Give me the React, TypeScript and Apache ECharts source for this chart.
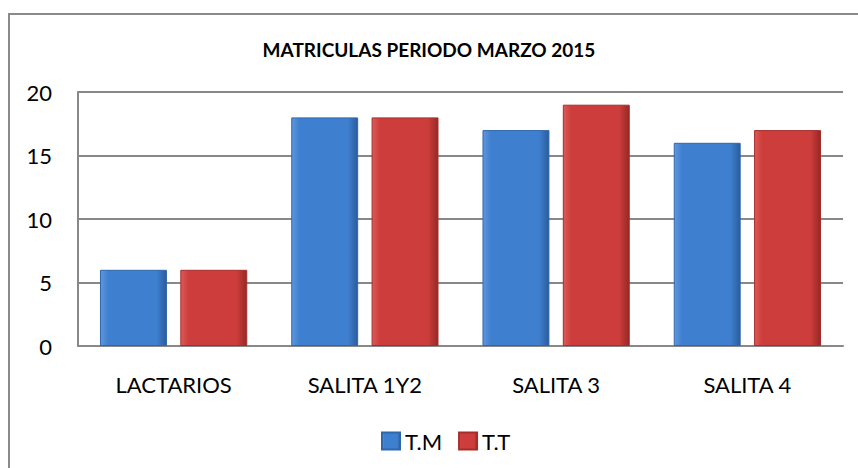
import React, { useEffect, useRef } from "react";
import * as echarts from "echarts";

const title = "MATRICULAS PERIODO MARZO 2015";
const categories = ["LACTARIOS", "SALITA 1Y2", "SALITA 3", "SALITA 4"];
const seriesNames = ["T.M", "T.T"];
const tmValues = [6, 18, 17, 16];
const ttValues = [6, 18, 19, 17];
const yTicks = { min: 0, max: 20, interval: 5 };

const FONT = "Lato, 'Open Sans', sans-serif";

function grad(light: string, mid: string, dark: string) {
  return new echarts.graphic.LinearGradient(0, 0, 1, 0, [
    { offset: 0, color: light },
    { offset: 0.12, color: mid },
    { offset: 0.85, color: mid },
    { offset: 1, color: dark },
  ]);
}

export default function App() {
  const ref = useRef<HTMLDivElement>(null);
  useEffect(() => {
    if (!ref.current) return;
    const chart = echarts.init(ref.current, undefined, { renderer: "svg" });
    const blue = grad("#5f97de", "#3f7fcf", "#2b5c9c");
    const red = grad("#dc5a58", "#cc3d3b", "#952826");
    chart.setOption({
      animation: false,
      backgroundColor: "#ffffff",
      textStyle: { fontFamily: FONT },
      title: {
        text: title,
        left: "center",
        top: 35,
        textStyle: { fontFamily: FONT, fontWeight: "bold", fontSize: 19, color: "#000" },
      },
      graphic: [
        {
          type: "rect",
          shape: { x: 9, y: 14, width: 900, height: 500 },
          style: { fill: "none", stroke: "#8a8a8a", lineWidth: 2 },
          silent: true,
          z: -1,
        },
      ],
      legend: {
        data: seriesNames,
        top: 425,
        left: 376,
        icon: "rect",
        itemWidth: 18,
        itemHeight: 17,
        itemGap: 16,
        textStyle: { fontFamily: FONT, fontSize: 22, color: "#000" },
      },
      grid: { left: 78, right: 15, top: 92, bottom: 122, containLabel: false },
      xAxis: {
        type: "category",
        data: categories,
        axisLine: { show: true, lineStyle: { color: "#888", width: 2 } },
        axisTick: { show: false },
        axisLabel: { fontFamily: FONT, fontSize: 22, color: "#000", margin: 27 },
      },
      yAxis: {
        type: "value",
        min: yTicks.min,
        max: yTicks.max,
        interval: yTicks.interval,
        axisLine: { show: true, lineStyle: { color: "#888", width: 2 } },
        axisTick: { show: false },
        splitLine: { show: true, lineStyle: { color: "#888", width: 2 } },
        axisLabel: { fontFamily: FONT, fontSize: 22, color: "#000", margin: 26 },
      },
      series: [
        {
          name: seriesNames[0],
          type: "bar",
          data: tmValues,
          barWidth: "35%",
          barGap: "20%",
          itemStyle: { color: blue, borderColor: "#2f67ad", borderWidth: 1 },
        },
        {
          name: seriesNames[1],
          type: "bar",
          data: ttValues,
          barWidth: "35%",
          barGap: "20%",
          itemStyle: { color: red, borderColor: "#a52e2c", borderWidth: 1 },
        },
      ],
    });
    return () => chart.dispose();
  }, []);
  return (
    <div
      ref={ref}
      style={{ position: "fixed", left: 0, top: 0, width: 858, height: 468 }}
    />
  );
}
